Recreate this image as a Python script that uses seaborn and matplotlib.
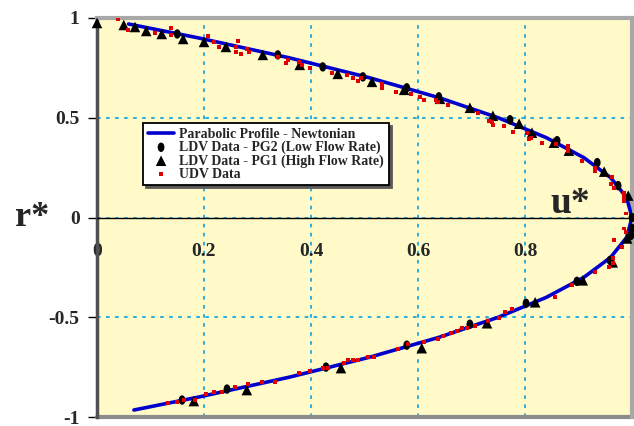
import matplotlib
matplotlib.use("Agg")
import matplotlib.pyplot as plt
import seaborn as sns
import pandas as pd
from matplotlib.path import Path
from matplotlib.transforms import Affine2D

# ---------------- data ----------------
line_r = [0.97, 0.9, 0.8, 0.7, 0.6, 0.5, 0.4, 0.3, 0.2, 0.1, 0.0,
          -0.1, -0.2, -0.3, -0.4, -0.5, -0.6, -0.7, -0.8, -0.9, -0.965]
line_u = [0.059, 0.19, 0.36, 0.51, 0.64, 0.75, 0.84, 0.91, 0.96, 0.99, 1.0,
          0.99, 0.96, 0.91, 0.84, 0.75, 0.64, 0.51, 0.36, 0.19, 0.069]

pg2_u = [0.150, 0.338, 0.422, 0.497, 0.579, 0.639, 0.772, 0.860, 0.935, 0.974, 1.0,
         1.0, 0.998, 0.959, 0.897, 0.802, 0.697, 0.579, 0.428, 0.243, 0.159]
pg2_r = [0.92, 0.815, 0.755, 0.705, 0.65, 0.605, 0.49, 0.385, 0.275, 0.16, 0.0,
         -0.055, -0.09, -0.215, -0.32, -0.43, -0.535, -0.64, -0.75, -0.86, -0.915]

pg1_u = [0.0, 0.05, 0.071, 0.092, 0.121, 0.161, 0.2, 0.241, 0.31, 0.379, 0.450,
         0.514, 0.574, 0.641, 0.697, 0.740, 0.789, 0.813, 0.854, 0.882, 0.948,
         0.993, 0.991, 0.964, 0.908, 0.819, 0.729, 0.607, 0.456, 0.280, 0.181]
pg1_r = [0.975, 0.965, 0.955, 0.935, 0.92, 0.895, 0.88, 0.855, 0.815, 0.765, 0.72,
         0.68, 0.64, 0.595, 0.55, 0.51, 0.47, 0.425, 0.375, 0.335, 0.23,
         0.11, -0.105, -0.225, -0.315, -0.425, -0.53, -0.655, -0.755, -0.865, -0.92]

udv_u = [0.039, 0.058, 0.108, 0.138, 0.138, 0.207, 0.219, 0.228, 0.260, 0.264,
         0.260, 0.269, 0.280, 0.284, 0.338, 0.353, 0.357, 0.378, 0.383, 0.398,
         0.439, 0.467, 0.479, 0.488, 0.493, 0.533, 0.533, 0.559, 0.587, 0.604,
         0.611, 0.634, 0.637, 0.656, 0.712, 0.733, 0.738, 0.740, 0.761, 0.778,
         0.804, 0.807, 0.811, 0.832, 0.858, 0.880, 0.880, 0.880, 0.907, 0.931,
         0.931, 0.963, 0.961, 0.966, 0.985, 0.985, 0.985, 0.989, 0.985, 0.989,
         0.966, 0.981, 0.964, 0.964, 0.957, 0.931, 0.888, 0.856, 0.776, 0.763,
         0.751, 0.731, 0.707, 0.692, 0.682, 0.673, 0.662, 0.647, 0.637, 0.611,
         0.581, 0.563, 0.518, 0.507, 0.488, 0.479, 0.469, 0.462, 0.432, 0.422,
         0.398, 0.378, 0.333, 0.308, 0.282, 0.258, 0.234, 0.219, 0.204, 0.183,
         0.163, 0.150, 0.133]
udv_r = [0.995, 0.94, 0.925, 0.95, 0.915, 0.91, 0.88, 0.855, 0.855, 0.885,
         0.83, 0.82, 0.845, 0.83, 0.805, 0.775, 0.79, 0.78, 0.765, 0.75,
         0.725, 0.715, 0.70, 0.685, 0.70, 0.67, 0.65, 0.63, 0.62, 0.605,
         0.59, 0.59, 0.58, 0.565, 0.525, 0.485, 0.48, 0.465, 0.46, 0.43,
         0.425, 0.395, 0.40, 0.375, 0.37, 0.36, 0.345, 0.335, 0.285, 0.25,
         0.235, 0.205, 0.17, 0.15, 0.125, 0.105, 0.085, 0.02, -0.055, -0.075,
         -0.115, -0.15, -0.205, -0.23, -0.25, -0.275, -0.34, -0.40, -0.46, -0.475,
         -0.505, -0.52, -0.545, -0.555, -0.555, -0.57, -0.58, -0.595, -0.61, -0.625,
         -0.635, -0.66, -0.70, -0.70, -0.715, -0.715, -0.715, -0.73, -0.755, -0.755,
         -0.77, -0.78, -0.825, -0.825, -0.835, -0.85, -0.875, -0.875, -0.885, -0.915,
         -0.915, -0.925, -0.93]

x_ticks = [0, 0.2, 0.4, 0.6, 0.8]
x_ticklabels = ["0", "0.2", "0.4", "0.6", "0.8"]
y_ticks = [1, 0.5, 0, -0.5, -1]
y_ticklabels = ["1", "0.5", "0", "-0.5", "-1"]

labels = ["Parabolic Profile - Newtonian",
          "LDV Data - PG2 (Low Flow Rate)",
          "LDV Data - PG1 (High Flow Rate)",
          "UDV Data"]

# ---------------- figure ----------------
sns.set_style("white")
plt.rcParams["font.family"] = ["Liberation Serif", "DejaVu Serif"]
plt.rcParams["font.weight"] = "bold"

fig = plt.figure(figsize=(6.34, 4.26), dpi=100)
ax = fig.add_axes([97 / 634, 9 / 426, 535 / 634, 399 / 426])
ax.set_facecolor("#FFFAC8")

df_line = pd.DataFrame({"u": line_u, "r": line_r})
df_pg2 = pd.DataFrame({"u": pg2_u, "r": pg2_r})
df_pg1 = pd.DataFrame({"u": pg1_u, "r": pg1_r})
df_udv = pd.DataFrame({"u": udv_u, "r": udv_r})

ellipse = Affine2D().scale(0.72, 1.0).transform_path(Path.unit_circle())

sns.lineplot(data=df_line, x="u", y="r", sort=False, estimator=None,
             color="#0000CC", lw=2.6, ax=ax, label=labels[0], zorder=3)
sns.scatterplot(data=df_pg2, x="u", y="r", marker=ellipse, s=46, color="black",
                edgecolor="none", linewidth=0, ax=ax, label=labels[1], zorder=4,
                clip_on=False)
sns.scatterplot(data=df_pg1, x="u", y="r", marker="^", s=58, color="black",
                edgecolor="none", linewidth=0, ax=ax, label=labels[2], zorder=4,
                clip_on=False)
sns.scatterplot(data=df_udv, x="u", y="r", marker="s", s=8, color="#E00000",
                edgecolor="none", linewidth=0, ax=ax, label=labels[3], zorder=5)

ax.set_xlim(0, 1.0)
ax.set_ylim(-1, 1)

# grid
ax.set_xticks(x_ticks + [1.0])
ax.set_xticklabels(x_ticklabels + [""])
ax.set_yticks(y_ticks)
ax.set_yticklabels(y_ticklabels)
ax.grid(True, color="#1EA8E0", linestyle=(0, (2, 3)), lw=1.3)
ax.set_axisbelow(True)

# x axis through r* = 0
ax.spines["bottom"].set_position(("data", 0))
ax.spines["bottom"].set_color("black")
ax.spines["bottom"].set_linewidth(1.0)
ax.spines["left"].set_color("#505050")
ax.spines["left"].set_linewidth(2.5)
ax.spines["top"].set_color("#A8A8A8")
ax.spines["top"].set_linewidth(3)
ax.spines["right"].set_color("#A8A8A8")
ax.spines["right"].set_linewidth(3)
ax.axhline(-1, color="#8C8C8C", lw=3, clip_on=False, zorder=2.5)

ax.tick_params(axis="x", direction="out", length=7, width=1.2, color="#505050",
               pad=11, labelsize=14)
ax.tick_params(axis="y", direction="out", length=6.5, width=1, color="black",
               pad=6, labelsize=14, left=True)
for t in ax.get_xticklabels() + ax.get_yticklabels():
    t.set_fontweight("bold")

ax.set_xlabel("u*", fontsize=27, fontweight="bold")
ax.xaxis.set_label_coords(0.885, 0.535)
ax.xaxis.label.set_va("center")
ax.set_ylabel("r*", fontsize=26, fontweight="bold", rotation=0)
ax.yaxis.set_label_coords(-0.121, 0.5)
ax.yaxis.label.set_va("center")
ax.yaxis.label.set_ha("center")

h, l = ax.get_legend_handles_labels()
leg = ax.legend(h, l, loc="upper left", bbox_to_anchor=(0.086, 0.7375),
                borderaxespad=0, frameon=True, fancybox=False,
                shadow={"color": "0.35", "alpha": 1},
                prop={"family": ["Liberation Serif"], "weight": "bold", "size": 10},
                labelspacing=0.0, handlelength=1.9, handletextpad=0.35,
                borderpad=0.35, facecolor="white", edgecolor="black",
                framealpha=1)
leg.get_frame().set_linewidth(1.3)

fig.savefig("out.png", dpi=100)
